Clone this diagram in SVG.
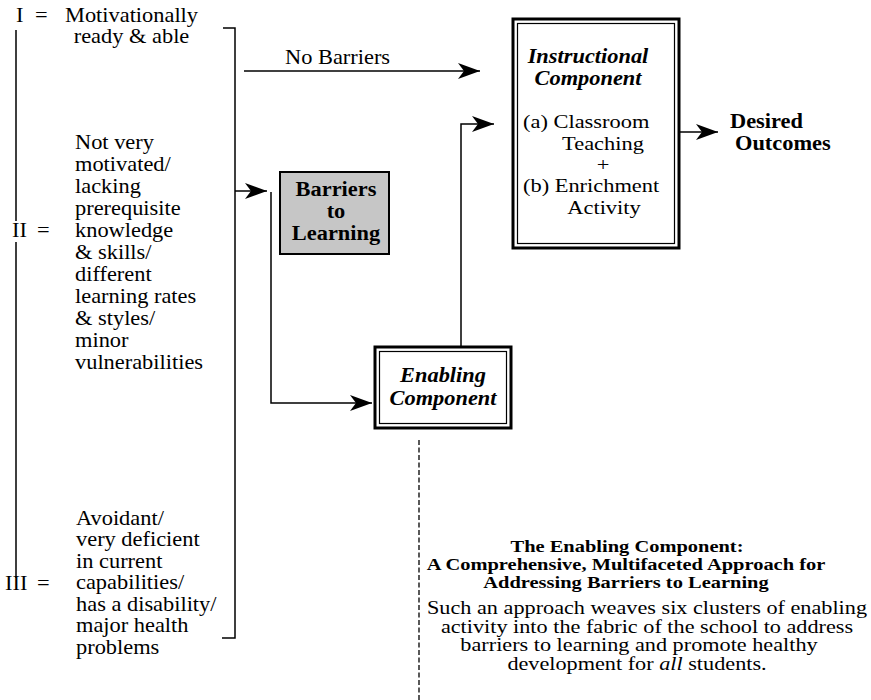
<svg xmlns="http://www.w3.org/2000/svg" width="871" height="700" viewBox="0 0 871 700">
  <defs>
    <!-- notched solid arrowhead used by every connector -->
    <marker id="arrow" viewBox="0 0 22 16" refX="22" refY="8" markerWidth="22" markerHeight="16" markerUnits="userSpaceOnUse" orient="auto">
      <path d="M0,0 L22,8 L0,16 L6,8 Z" fill="#000"/>
    </marker>
  </defs>
  <style>
    text { font-family: "Liberation Serif", "Times New Roman", serif; font-size: 20px; fill: #000; }
    .b { font-weight: bold; }
    .bi { font-weight: bold; font-style: italic; }
    .m { text-anchor: middle; }
    .s19 { font-size: 19px; }
    .title { font-size: 16.5px; font-weight: bold; text-anchor: middle; }
    .body { font-size: 18px; text-anchor: middle; }
    .line { fill: none; stroke: #000; stroke-width: 1.5; }
    .conn { fill: none; stroke: #000; stroke-width: 1.5; marker-end: url(#arrow); }
    .dash { fill: none; stroke: #000; stroke-width: 1.3; stroke-dasharray: 5 2.5; }
    .outer { fill: #fff; stroke: #000; stroke-width: 3; }
    .inner { fill: none; stroke: #000; stroke-width: 1.2; }
    .shade { fill: #c6c6c6; stroke: #000; stroke-width: 2; }
  </style>

  <rect width="871" height="700" fill="#fff"/>

  <!-- student groups on the left, joined by the brace lines -->
  <g id="student-groups">
    <path class="line" d="M16,30 V221 M16,242 V578"/>
    <path class="line" d="M223,28 H235 V638 H222"/>

    <g id="group-I">
      <text transform="translate(16,22) scale(1.12,1)">I</text>
      <text transform="translate(35,22) scale(1.12,1)">=</text>
      <text class="m" transform="translate(131.5,22) scale(1.12,1)">Motivationally</text>
      <text class="m" transform="translate(131.5,43) scale(1.12,1)">ready &amp; able</text>
    </g>

    <g id="group-II">
      <text transform="translate(12,237) scale(1.12,1)">II</text>
      <text transform="translate(37,237) scale(1.12,1)">=</text>
      <text transform="translate(75,149) scale(1.12,1)">
        <tspan x="0" y="0">Not very</tspan>
        <tspan x="0" y="22">motivated/</tspan>
        <tspan x="0" y="44">lacking</tspan>
        <tspan x="0" y="66">prerequisite</tspan>
        <tspan x="0" y="88">knowledge</tspan>
        <tspan x="0" y="110">&amp; skills/</tspan>
        <tspan x="0" y="132">different</tspan>
        <tspan x="0" y="154">learning rates</tspan>
        <tspan x="0" y="176">&amp; styles/</tspan>
        <tspan x="0" y="198">minor</tspan>
        <tspan x="0" y="220">vulnerabilities</tspan>
      </text>
    </g>

    <g id="group-III">
      <text transform="translate(5,589.5) scale(1.12,1)">III</text>
      <text transform="translate(37,589.5) scale(1.12,1)">=</text>
      <text transform="translate(76,525) scale(1.12,1)">
        <tspan x="0" y="0">Avoidant/</tspan>
        <tspan x="0" y="21.5">very deficient</tspan>
        <tspan x="0" y="43">in current</tspan>
        <tspan x="0" y="64.5">capabilities/</tspan>
        <tspan x="0" y="86">has a disability/</tspan>
        <tspan x="0" y="107.5">major health</tspan>
        <tspan x="0" y="129">problems</tspan>
      </text>
    </g>
  </g>

  <!-- connectors -->
  <g id="connectors">
    <path class="conn" d="M244,71 H480"/>
    <path class="conn" d="M235,191 H267"/>
    <path class="conn" d="M271,192 V403 H372"/>
    <path class="conn" d="M461,346 V124 H494"/>
    <path class="conn" d="M680,132 H718"/>
    <path class="dash" d="M419,440 V700"/>
    <text id="label-no-barriers" transform="translate(285,64) scale(1.12,1)">No Barriers</text>
  </g>

  <g id="barriers">
    <rect class="shade" x="280" y="172" width="109" height="82"/>
    <text class="b m" transform="translate(336,196) scale(1.12,1)">Barriers</text>
    <text class="b m" transform="translate(336,218) scale(1.12,1)">to</text>
    <text class="b m" transform="translate(336,240) scale(1.12,1)">Learning</text>
  </g>

  <g id="instructional">
    <rect class="outer" x="513" y="19" width="166" height="229"/>
    <rect class="inner" x="517.5" y="23.5" width="157" height="220"/>
    <text class="bi m" transform="translate(588,63) scale(1.12,1)">Instructional</text>
    <text class="bi m" transform="translate(588,85) scale(1.12,1)">Component</text>
    <text class="s19" transform="translate(523,128) scale(1.18,1)">(a) Classroom</text>
    <text class="s19 m" transform="translate(603,149.5) scale(1.18,1)">Teaching</text>
    <text class="s19 m" transform="translate(603,171) scale(1.18,1)">+</text>
    <text class="s19" transform="translate(523,192) scale(1.18,1)">(b) Enrichment</text>
    <text class="s19 m" transform="translate(604,213.5) scale(1.18,1)">Activity</text>
  </g>

  <g id="enabling">
    <rect class="outer" x="375" y="347" width="136" height="81"/>
    <rect class="inner" x="379.5" y="351.5" width="127" height="72"/>
    <text class="bi m" transform="translate(443,382) scale(1.12,1)">Enabling</text>
    <text class="bi m" transform="translate(443,405) scale(1.12,1)">Component</text>
  </g>

  <g id="outcomes">
    <text class="b" transform="translate(730,128) scale(1.12,1)">Desired</text>
    <text class="b" transform="translate(735,150) scale(1.12,1)">Outcomes</text>
  </g>

  <g id="enabling-note">
    <text class="title" transform="translate(627,552) scale(1.24,1)">The Enabling Component:</text>
    <text class="title" transform="translate(626,570) scale(1.24,1)">A Comprehensive, Multifaceted Approach for</text>
    <text class="title" transform="translate(626,588) scale(1.24,1)">Addressing Barriers to Learning</text>
    <text class="body" transform="translate(647,614) scale(1.235,1)">Such an approach weaves six clusters of enabling</text>
    <text class="body" transform="translate(647,632.5) scale(1.235,1)">activity into the fabric of the school to address</text>
    <text class="body" transform="translate(639,651) scale(1.235,1)">barriers to learning and promote healthy</text>
    <text class="body" transform="translate(637,669.5) scale(1.235,1)">development for <tspan font-style="italic">all</tspan> students.</text>
  </g>
</svg>
